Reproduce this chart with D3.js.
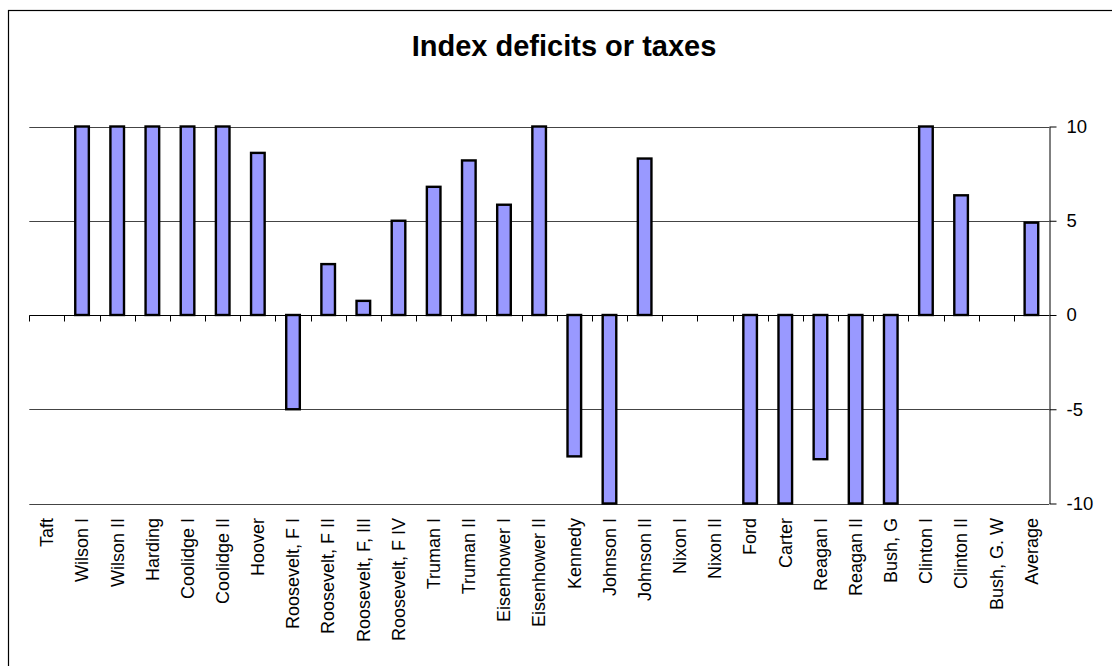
<!DOCTYPE html>
<html>
<head>
<meta charset="utf-8">
<script src="https://cdn.jsdelivr.net/npm/d3@7"></script>
<style>
  html, body { margin: 0; padding: 0; background: #fff; }
  svg { display: block; font-family: "Liberation Sans", Arial, sans-serif; }
</style>
</head>
<body>
<div id="chart"></div>
<script>
const chartTitle = "Index deficits or taxes";
const categories = ["Taft", "Wilson I", "Wilson II", "Harding", "Coolidge I", "Coolidge II", "Hoover",
  "Roosevelt, F I", "Roosevelt, F II", "Roosevelt, F, III", "Roosevelt, F IV", "Truman I", "Truman II",
  "Eisenhower I", "Eisenhower II", "Kennedy", "Johnson I", "Johnson II", "Nixon I", "Nixon II", "Ford",
  "Carter", "Reagan I", "Reagan II", "Bush, G", "Clinton I", "Clinton II", "Bush, G. W", "Average"];
const values = [null, 10, 10, 10, 10, 10, 8.6,
  -5, 2.7, 0.75, 5, 6.8, 8.2,
  5.85, 10, -7.5, -10, 8.3, null, null, -10,
  -10, -7.65, -10, -10, 10, 6.35, null, 4.9];
const yTicks = [-10, -5, 0, 5, 10];
const yTickLabels = ["-10", "-5", "0", "5", "10"];

const W = 1112, H = 666;
const plot = { left: 29.3, right: 1049, top: 126.5, bottom: 503.5 };

const svg = d3.select("#chart").append("svg")
  .attr("width", W).attr("height", H);

// outer chart border (only top/left visible within view)
svg.append("rect")
  .attr("x", 8.5).attr("y", 10.5)
  .attr("width", 1115).attr("height", 680)
  .attr("fill", "none").attr("stroke", "#000").attr("stroke-width", 1.2);

const x = d3.scaleBand().domain(categories).range([plot.left, plot.right]).padding(0);
const y = d3.scaleLinear().domain([-10, 10]).range([plot.bottom, plot.top]);

// gridlines
svg.append("g").selectAll("line")
  .data(yTicks.filter(v => v !== 0))
  .join("line")
  .attr("x1", plot.left).attr("x2", plot.right)
  .attr("y1", d => Math.round(y(d)) + 0.5).attr("y2", d => Math.round(y(d)) + 0.5)
  .attr("stroke", "#444").attr("stroke-width", 1);

// bars
const barW = 13.6;
svg.append("g").selectAll("rect")
  .data(categories.map((c, i) => ({ c, v: values[i] })).filter(d => d.v !== null && d.v !== 0))
  .join("rect")
  .attr("x", d => x(d.c) + x.bandwidth() / 2 - barW / 2)
  .attr("y", d => y(Math.max(0, d.v)))
  .attr("width", barW)
  .attr("height", d => Math.abs(y(d.v) - y(0)))
  .attr("fill", "#9999FF")
  .attr("stroke", "#000")
  .attr("stroke-width", 2.4);

// zero (category) axis line with ticks at category boundaries
const y0 = Math.round(y(0)) + 0.5;
svg.append("line")
  .attr("x1", plot.left).attr("x2", plot.right)
  .attr("y1", y0).attr("y2", y0)
  .attr("stroke", "#000").attr("stroke-width", 1);
svg.append("g").selectAll("line")
  .data(d3.range(categories.length))
  .join("line")
  .attr("x1", i => Math.round(plot.left + i * x.step()) + 0.5)
  .attr("x2", i => Math.round(plot.left + i * x.step()) + 0.5)
  .attr("y1", y0).attr("y2", y0 + 6)
  .attr("stroke", "#000").attr("stroke-width", 1);

// right value axis
const yAxis = d3.axisRight(y).tickValues(yTicks).tickSize(7).tickSizeOuter(0).tickPadding(10)
  .tickFormat(d => yTickLabels[yTicks.indexOf(d)]);
const ax = svg.append("g").attr("transform", `translate(${Math.round(plot.right) + 0.5},0)`).call(yAxis);
ax.select(".domain").attr("stroke", "#000");
ax.selectAll(".tick line").attr("stroke", "#000");
ax.selectAll(".tick text").attr("fill", "#000").attr("font-size", 18.5)
  .attr("font-family", "'Liberation Sans', Arial, sans-serif");

// category labels
svg.append("g").selectAll("text")
  .data(categories)
  .join("text")
  .attr("transform", d => `translate(${x(d) + x.bandwidth() / 2},518) rotate(-90)`)
  .attr("dy", "0.35em")
  .attr("text-anchor", "end")
  .attr("font-size", 18)
  .attr("fill", "#000")
  .text(d => d);

// title
svg.append("text")
  .attr("x", 564).attr("y", 56)
  .attr("text-anchor", "middle")
  .attr("font-size", 29)
  .attr("font-weight", "bold")
  .attr("fill", "#000")
  .text(chartTitle);
</script>
</body>
</html>
